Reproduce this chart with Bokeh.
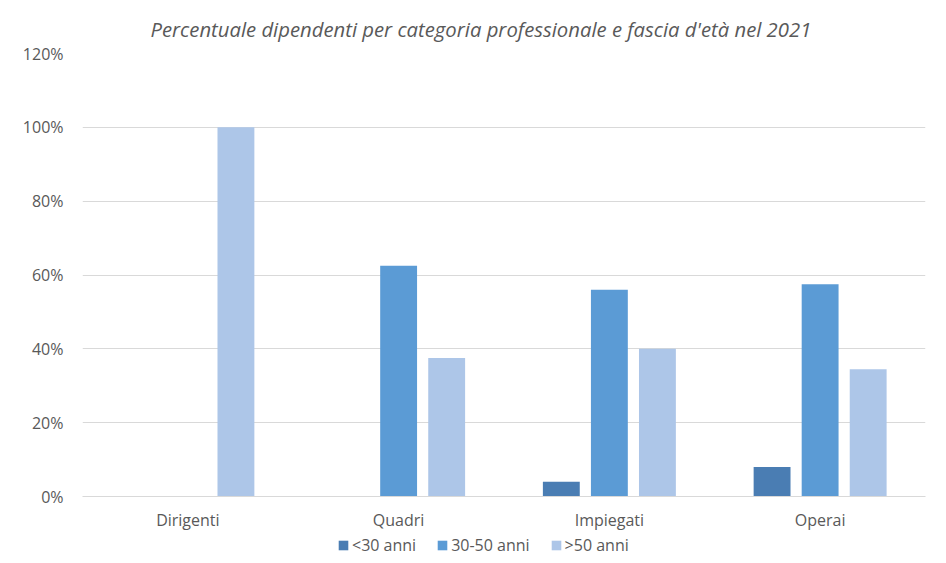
from bokeh.plotting import figure
from bokeh.layouts import column
from bokeh.models import ColumnDataSource, Legend, LegendItem, NumeralTickFormatter, FixedTicker, Title
from bokeh.transform import dodge
from bokeh.embed import file_html
from bokeh.resources import INLINE

categories = ["Dirigenti", "Quadri", "Impiegati", "Operai"]
under30 = [0.0, 0.0, 0.04, 0.08]
mid30_50 = [0.0, 0.625, 0.56, 0.575]
over50 = [1.0, 0.375, 0.40, 0.345]
series_names = ["<30 anni", "30-50 anni", ">50 anni"]
colors = ["#4a7db3", "#5b9bd5", "#adc6e8"]
y_ticks = [0, 0.2, 0.4, 0.6, 0.8, 1.0, 1.2]

src = ColumnDataSource(dict(cat=categories, a=under30, b=mid30_50, c=over50))

p = figure(x_range=categories, y_range=(0, 1.2), width=946, height=533,
           output_backend="svg", toolbar_location=None,
           min_border_left=82, min_border_right=21, min_border_top=53, min_border_bottom=36)
p.x_range.range_padding = 0

title = Title(text="Percentuale dipendenti per categoria professionale e fascia d'età nel 2021",
              align="left", text_font="Open Sans", text_font_style="italic",
              text_font_size="20.3px", text_color="#595959", offset=68, standoff=21)
p.title = title

for key, off, col in zip(["a", "b", "c"], [-0.228, 0.0, 0.228], colors):
    p.vbar(x=dodge("cat", off, range=p.x_range), top=key, width=0.175, source=src,
           fill_color=col, line_color=None)

p.yaxis.ticker = FixedTicker(ticks=y_ticks)
p.yaxis.formatter = NumeralTickFormatter(format="0%")
p.yaxis.axis_line_color = None
p.yaxis.major_tick_line_color = None
p.yaxis.minor_tick_line_color = None
p.yaxis.major_label_standoff = 13
p.yaxis.major_label_text_font = "Open Sans"
p.yaxis.major_label_text_font_size = "16px"
p.yaxis.major_label_text_color = "#595959"

p.xaxis.axis_line_color = "#d9d9d9"
p.xaxis.major_tick_line_color = None
p.xaxis.minor_tick_line_color = None
p.xaxis.major_label_standoff = 6
p.xaxis.major_label_text_font = "Open Sans"
p.xaxis.major_label_text_font_size = "16px"
p.xaxis.major_label_text_color = "#595959"

p.xgrid.grid_line_color = None
p.ygrid.grid_line_color = "#d9d9d9"
p.outline_line_color = None

# legend strip below the chart (hidden swatch renderers carry the same series)
lsrc = ColumnDataSource(dict(pos=list(range(len(categories))), a=under30, b=mid30_50, c=over50))
pl = figure(width=946, height=30, output_backend="svg", toolbar_location=None,
            min_border=0, x_range=(0, 1), y_range=(0, 1))
pl.axis.visible = False
pl.grid.visible = False
pl.outline_line_color = None
sw = []
for key, col in zip(["a", "b", "c"], colors):
    r = pl.vbar(x="pos", top=key, width=0.5, source=lsrc, fill_color=col, line_color=None)
    r.visible = False
    sw.append(r)

legend = Legend(items=[LegendItem(label=n, renderers=[r]) for n, r in zip(series_names, sw)],
                orientation="horizontal", location=(255, 7),
                label_text_font="Open Sans", label_text_font_size="16px", label_text_color="#595959",
                glyph_width=12, glyph_height=12, label_height=20, spacing=20, label_standoff=3,
                padding=0, margin=0, border_line_color=None, background_fill_alpha=0,
                inactive_fill_alpha=0)
pl.add_layout(legend, "center")

layout = column(p, pl, spacing=0)
open("out.html", "w").write(file_html(layout, INLINE))
